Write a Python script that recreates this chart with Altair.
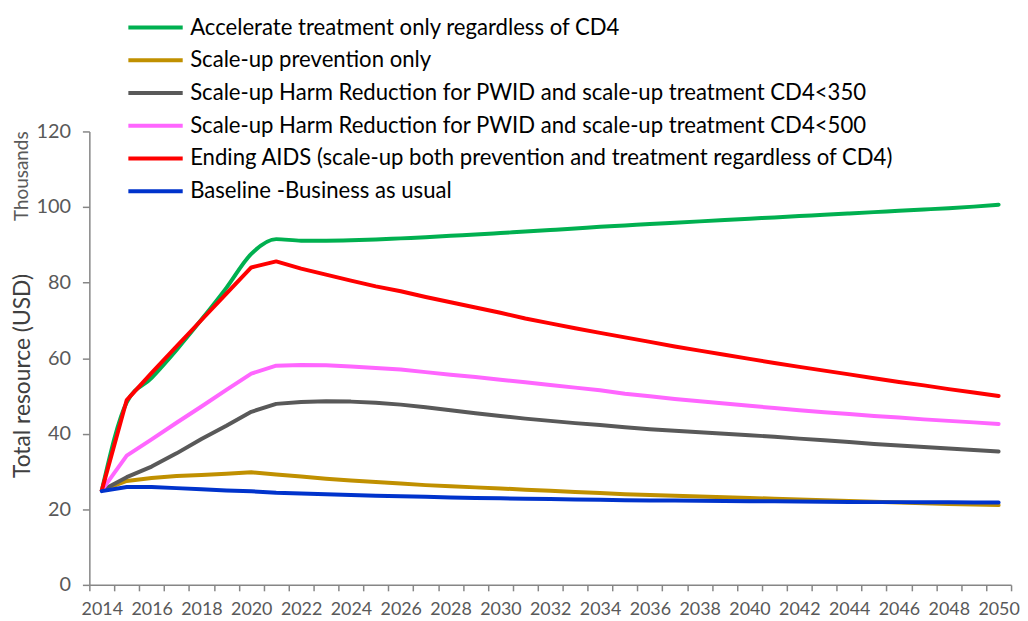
import altair as alt
import pandas as pd

years = list(range(2014, 2051))

series_names = [
    "Accelerate treatment only regardless of CD4",
    "Scale-up prevention only",
    "Scale-up Harm Reduction for PWID and scale-up treatment CD4<350",
    "Scale-up Harm Reduction for PWID and scale-up treatment CD4<500",
    "Ending AIDS (scale-up both prevention and treatment regardless of CD4)",
    "Baseline -Business as usual",
]
series_colors = ["#00B050", "#C09000", "#595959", "#FF66FF", "#FF0000", "#0033CC"]

accelerate = [25.0, 48.3, 54.8, 62.2, 70.2, 78.6, 87.6, 91.5, 91.1, 91.1, 91.2, 91.4, 91.7,
              92.0, 92.4, 92.7, 93.1, 93.5, 93.9, 94.3, 94.75, 95.1, 95.5, 95.85, 96.2,
              96.55, 96.9, 97.25, 97.6, 97.95, 98.3, 98.65, 99.0, 99.35, 99.7, 100.1, 100.6]
prevention = [25.0, 27.5, 28.3, 28.8, 29.1, 29.4, 29.8, 29.2, 28.7, 28.1, 27.6, 27.2, 26.8,
              26.4, 26.1, 25.8, 25.5, 25.2, 24.9, 24.6, 24.3, 24.0, 23.8, 23.6, 23.4, 23.2,
              23.0, 22.8, 22.6, 22.4, 22.2, 22.0, 21.8, 21.6, 21.4, 21.25, 21.1]
harm350 = [25.0, 28.5, 31.3, 34.8, 38.6, 42.1, 45.8, 47.9, 48.4, 48.6, 48.5, 48.2, 47.7,
           47.0, 46.2, 45.4, 44.7, 44.0, 43.4, 42.8, 42.3, 41.7, 41.2, 40.8, 40.4, 40.0,
           39.6, 39.2, 38.7, 38.3, 37.8, 37.3, 36.9, 36.5, 36.1, 35.7, 35.3]
harm500 = [25.0, 34.2, 38.5, 42.9, 47.2, 51.6, 55.9, 58.0, 58.2, 58.1, 57.8, 57.4, 57.0,
           56.3, 55.6, 55.0, 54.3, 53.6, 52.9, 52.2, 51.5, 50.6, 49.9, 49.2, 48.6, 48.0,
           47.4, 46.8, 46.2, 45.7, 45.2, 44.7, 44.3, 43.8, 43.4, 43.0, 42.6]
ending_aids = [25.0, 48.9, 56.1, 63.1, 70.1, 77.1, 84.0, 85.6, 83.7, 82.1, 80.5, 79.0, 77.7,
               76.2, 74.8, 73.4, 72.0, 70.5, 69.2, 67.9, 66.7, 65.5, 64.3, 63.1, 62.0, 60.9,
               59.8, 58.7, 57.7, 56.7, 55.7, 54.7, 53.7, 52.8, 51.8, 50.9, 50.0]
baseline = [24.8, 25.9, 25.9, 25.6, 25.3, 25.0, 24.75, 24.4, 24.2, 24.0, 23.8, 23.6, 23.45,
            23.3, 23.15, 23.0, 22.9, 22.8, 22.7, 22.6, 22.5, 22.4, 22.35, 22.3, 22.25, 22.2,
            22.15, 22.1, 22.05, 22.0, 21.95, 21.9, 21.9, 21.85, 21.85, 21.8, 21.8]

y_ticks = [0, 20, 40, 60, 80, 100, 120]
y_title = "Total resource (USD)"
display_unit = "Thousands"

FONT = "Lato"

all_vals = [accelerate, prevention, harm350, harm500, ending_aids, baseline]
rows = []
for idx, (name, vals) in enumerate(zip(series_names, all_vals)):
    for yr, v in zip(years, vals):
        rows.append({"year": yr, "value": v, "series": name, "k": idx})
df = pd.DataFrame(rows)

x_enc = alt.X(
    "year:O",
    scale=alt.Scale(type="band", paddingInner=0, paddingOuter=0),
    axis=alt.Axis(
        title=None,
        tickBand="extent",
        labelExpr="datum.value % 2 == 0 ? datum.label : ''",
        labelAngle=0,
        labelOverlap=False,
        labelFontSize=18,
        labelPadding=10,
        tickSize=6,
    ),
)
y_enc = alt.Y(
    "value:Q",
    scale=alt.Scale(domain=[0, 120], nice=False),
    axis=alt.Axis(
        values=y_ticks,
        title=y_title,
        titleFontSize=23,
        titleFontWeight="normal",
        titleColor="#404040",
        titleX=-55,
        titleY=246,
        titleAngle=270,
        titleAlign="center",
        labelFontSize=20,
        labelPadding=12,
        tickSize=7,
    ),
)
color_enc = alt.Color(
    "series:N",
    scale=alt.Scale(domain=series_names, range=series_colors),
    legend=alt.Legend(
        title=None,
        orient="none",
        legendX=50.7,
        legendY=-120.7,
        symbolType="M-2,0H2",
        symbolSize=750,
        symbolStrokeWidth=4,
        labelFontSize=22.3,
        labelFont=FONT,
        labelColor="#000000",
        labelLimit=0,
        labelOffset=18.9,
        rowPadding=5,
    ),
)

base = alt.Chart(df).encode(x=x_enc, y=y_enc, color=color_enc, order=alt.Order("k:Q"))

green_line = base.transform_filter(alt.datum.k == 0).mark_line(
    strokeWidth=4, strokeCap="round", strokeJoin="round", interpolate="monotone"
)
other_lines = base.transform_filter(alt.datum.k > 0).mark_line(
    strokeWidth=4, strokeCap="round", strokeJoin="round"
)

unit_df = pd.DataFrame({"label": [display_unit]})
unit = alt.Chart(unit_df).mark_text(
    angle=270, fontSize=19, color="#595959", font=FONT, align="right", baseline="middle"
).encode(x=alt.value(-68), y=alt.value(0), text="label:N")

chart = alt.layer(green_line, other_lines, unit).properties(
    width=929,
    height=457,
    autosize=alt.AutoSizeParams(type="none"),
    padding={"left": 82, "top": 122, "right": 9, "bottom": 34},
).configure_view(stroke=None).configure_axis(
    grid=False,
    domainColor="#868686",
    domainWidth=1.5,
    tickColor="#868686",
    tickWidth=1.5,
    labelColor="#595959",
    labelFont=FONT,
    titleFont=FONT,
)

chart.save("out.html", embed_options={"renderer": "svg", "actions": False})
